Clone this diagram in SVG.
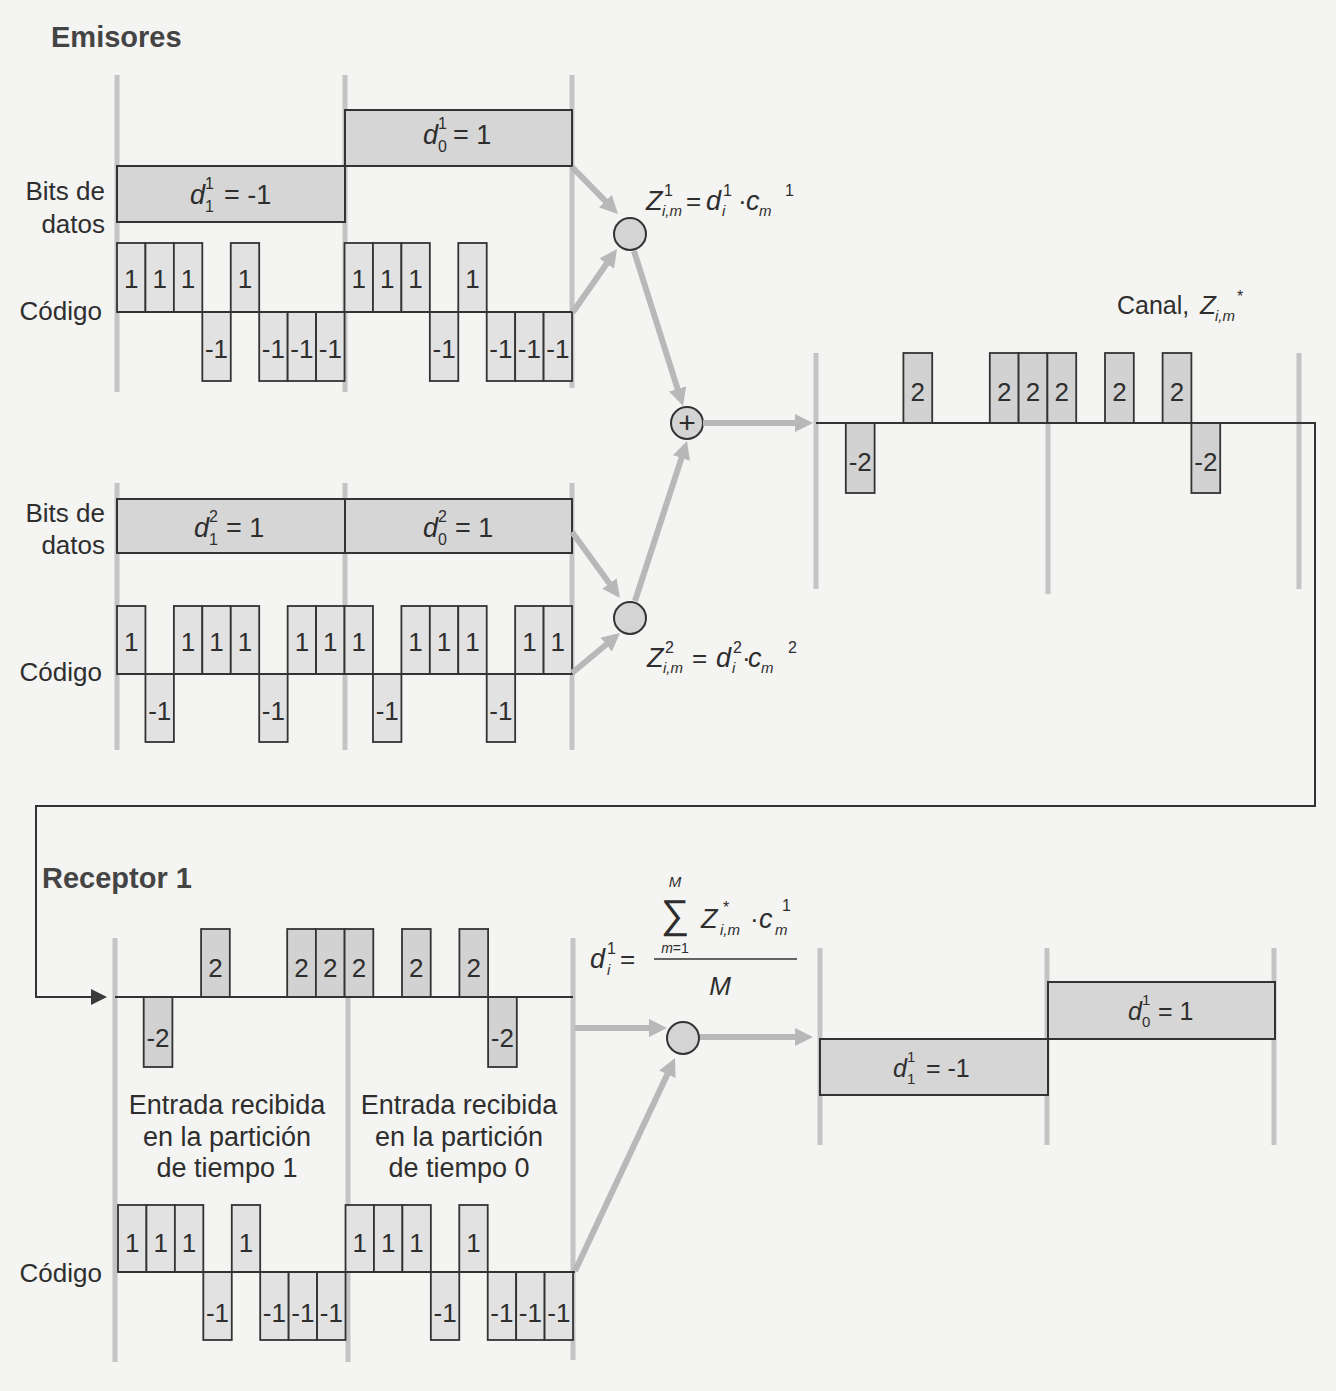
<svg xmlns="http://www.w3.org/2000/svg" width="1336" height="1391" viewBox="0 0 1336 1391">
<style>
text{font-family:"Liberation Sans",Arial,sans-serif;fill:#2e2e2e;font-size:26px}
.it{font-style:italic}
.s{font-size:16px}
.ss{font-size:15px}
.h{font-weight:bold;font-size:29px;fill:#444}
.lbl{text-anchor:end}
.c{text-anchor:middle}
.data{fill:#d6d6d6;stroke:#333;stroke-width:2}
.chip{fill:#e2e2e2;stroke:#333;stroke-width:1.8}
.ch{fill:#d2d2d2;stroke:#333;stroke-width:1.8}
.grid{stroke:#c4c4c4;stroke-width:5;fill:none}
.ga{stroke:#b8b8b8;stroke-width:6;fill:none}
.wire{stroke:#333;stroke-width:2;fill:none}
.node{fill:#d4d4d4;stroke:#333;stroke-width:2}
</style>
<defs>
<marker id="ga" markerUnits="userSpaceOnUse" markerWidth="20" markerHeight="18" refX="6" refY="9" orient="auto"><path d="M0,0 L18,9 L0,18 z" fill="#b8b8b8"/></marker>
<marker id="ba" markerUnits="userSpaceOnUse" markerWidth="18" markerHeight="16" refX="4" refY="8" orient="auto"><path d="M0,0 L16,8 L0,16 z" fill="#3a3a3a"/></marker>
</defs>
<rect width="1336" height="1391" fill="#f4f4f2"/>

<text class="h" x="51" y="47">Emisores</text>

<!-- Emisor 1 -->
<g id="emisor1">
<path class="grid" d="M117,75V392M345,75V392M572,75V388"/>
<rect class="data" x="345" y="110" width="227" height="56"/>
<rect class="data" x="117" y="166" width="228" height="56"/>
<text class="it" x="190" y="204" style="font-size:27px">d</text><text class="s" x="205" y="189">1</text><text class="s" x="205" y="212">1</text><text x="224" y="204" style="font-size:27px">= -1</text>
<text class="it" x="423" y="144" style="font-size:27px">d</text><text class="s" x="438" y="129">1</text><text class="s" x="438" y="152">0</text><text x="453" y="144" style="font-size:27px">= 1</text>
<text class="lbl" x="105" y="200">Bits de</text>
<text class="lbl" x="105" y="233">datos</text>
<text class="lbl" x="102" y="320">Código</text>
<g>
<rect class="chip" x="117" y="243" width="28.44" height="69"/>
<rect class="chip" x="145.44" y="243" width="28.44" height="69"/>
<rect class="chip" x="173.88" y="243" width="28.44" height="69"/>
<rect class="chip" x="202.32" y="312" width="28.44" height="69"/>
<rect class="chip" x="230.76" y="243" width="28.44" height="69"/>
<rect class="chip" x="259.2" y="312" width="28.44" height="69"/>
<rect class="chip" x="287.64" y="312" width="28.44" height="69"/>
<rect class="chip" x="316.08" y="312" width="28.44" height="69"/>
<rect class="chip" x="344.52" y="243" width="28.44" height="69"/>
<rect class="chip" x="372.96" y="243" width="28.44" height="69"/>
<rect class="chip" x="401.4" y="243" width="28.44" height="69"/>
<rect class="chip" x="429.84" y="312" width="28.44" height="69"/>
<rect class="chip" x="458.28" y="243" width="28.44" height="69"/>
<rect class="chip" x="486.72" y="312" width="28.44" height="69"/>
<rect class="chip" x="515.16" y="312" width="28.44" height="69"/>
<rect class="chip" x="543.6" y="312" width="28.44" height="69"/>
<path class="wire" d="M117,312H572"/>
<text class="c" x="131.2" y="288">1</text><text class="c" x="159.7" y="288">1</text><text class="c" x="188.1" y="288">1</text><text class="c" x="216.5" y="358">-1</text>
<text class="c" x="245" y="288">1</text><text class="c" x="273.4" y="358">-1</text><text class="c" x="301.9" y="358">-1</text><text class="c" x="330.3" y="358">-1</text>
<text class="c" x="358.7" y="288">1</text><text class="c" x="387.2" y="288">1</text><text class="c" x="415.6" y="288">1</text><text class="c" x="444.1" y="358">-1</text>
<text class="c" x="472.5" y="288">1</text><text class="c" x="500.9" y="358">-1</text><text class="c" x="529.4" y="358">-1</text><text class="c" x="557.8" y="358">-1</text>
</g>
</g>

<!-- Emisor 2 -->
<g id="emisor2">
<path class="grid" d="M117,483V750M345,483V750M572,483V750"/>
<rect class="data" x="117" y="499" width="228" height="54"/>
<rect class="data" x="345" y="499" width="227" height="54"/>
<text class="it" x="194" y="537" style="font-size:27px">d</text><text class="s" x="209" y="522">2</text><text class="s" x="209" y="545">1</text><text x="226" y="537" style="font-size:27px">= 1</text>
<text class="it" x="423" y="537" style="font-size:27px">d</text><text class="s" x="438" y="522">2</text><text class="s" x="438" y="545">0</text><text x="455" y="537" style="font-size:27px">= 1</text>
<text class="lbl" x="105" y="522">Bits de</text>
<text class="lbl" x="105" y="554">datos</text>
<text class="lbl" x="102" y="681">Código</text>
<g>
<rect class="chip" x="117" y="606" width="28.44" height="68"/>
<rect class="chip" x="145.44" y="674" width="28.44" height="68"/>
<rect class="chip" x="173.88" y="606" width="28.44" height="68"/>
<rect class="chip" x="202.32" y="606" width="28.44" height="68"/>
<rect class="chip" x="230.76" y="606" width="28.44" height="68"/>
<rect class="chip" x="259.2" y="674" width="28.44" height="68"/>
<rect class="chip" x="287.64" y="606" width="28.44" height="68"/>
<rect class="chip" x="316.08" y="606" width="28.44" height="68"/>
<rect class="chip" x="344.52" y="606" width="28.44" height="68"/>
<rect class="chip" x="372.96" y="674" width="28.44" height="68"/>
<rect class="chip" x="401.4" y="606" width="28.44" height="68"/>
<rect class="chip" x="429.84" y="606" width="28.44" height="68"/>
<rect class="chip" x="458.28" y="606" width="28.44" height="68"/>
<rect class="chip" x="486.72" y="674" width="28.44" height="68"/>
<rect class="chip" x="515.16" y="606" width="28.44" height="68"/>
<rect class="chip" x="543.6" y="606" width="28.44" height="68"/>
<path class="wire" d="M117,674H572"/>
<text class="c" x="131.2" y="651">1</text><text class="c" x="159.7" y="720">-1</text><text class="c" x="188.1" y="651">1</text><text class="c" x="216.5" y="651">1</text>
<text class="c" x="245" y="651">1</text><text class="c" x="273.4" y="720">-1</text><text class="c" x="301.9" y="651">1</text><text class="c" x="330.3" y="651">1</text>
<text class="c" x="358.7" y="651">1</text><text class="c" x="387.2" y="720">-1</text><text class="c" x="415.6" y="651">1</text><text class="c" x="444.1" y="651">1</text>
<text class="c" x="472.5" y="651">1</text><text class="c" x="500.9" y="720">-1</text><text class="c" x="529.4" y="651">1</text><text class="c" x="557.8" y="651">1</text>
</g>
</g>

<!-- Multiplicador 1 -->
<g id="mult1">
<circle class="node" cx="630" cy="234" r="16"/>
<text class="it" x="646" y="210" style="font-size:27px">Z</text><text class="s" x="664" y="196">1</text><text class="ss it" x="662" y="216">i,m</text>
<text x="686" y="210">=</text>
<text class="it" x="706" y="210" style="font-size:27px">d</text><text class="s" x="723" y="196">1</text><text class="ss it" x="722" y="216">i</text>
<text x="738" y="210">·</text>
<text class="it" x="746" y="210" style="font-size:27px">c</text><text class="ss it" x="759" y="216">m</text><text class="s" x="785" y="196">1</text>
</g>

<!-- Multiplicador 2 -->
<g id="mult2">
<circle class="node" cx="630" cy="618" r="16"/>
<text class="it" x="647" y="667" style="font-size:27px">Z</text><text class="s" x="665" y="653">2</text><text class="ss it" x="663" y="673">i,m</text>
<text x="692" y="667">=</text>
<text class="it" x="716" y="667" style="font-size:27px">d</text><text class="s" x="733" y="653">2</text><text class="ss it" x="732" y="673">i</text>
<text x="742" y="667">·</text>
<text class="it" x="748" y="667" style="font-size:27px">c</text><text class="ss it" x="761" y="673">m</text><text class="s" x="788" y="653">2</text>
</g>

<!-- Sumador -->
<g id="sumador">
<circle class="node" cx="687" cy="423" r="16"/>
<text class="c" x="687" y="433" style="font-size:30px">+</text>
</g>

<!-- Canal -->
<g id="canal">
<path class="grid" d="M816,353V589M1048,353V594M1299,353V589"/>
<rect class="ch" x="845.8" y="423" width="28.8" height="70"/>
<rect class="ch" x="903.4" y="353" width="28.8" height="70"/>
<rect class="ch" x="989.8" y="353" width="28.8" height="70"/>
<rect class="ch" x="1018.6" y="353" width="28.8" height="70"/>
<rect class="ch" x="1047.4" y="353" width="28.8" height="70"/>
<rect class="ch" x="1105" y="353" width="28.8" height="70"/>
<rect class="ch" x="1162.6" y="353" width="28.8" height="70"/>
<rect class="ch" x="1191.4" y="423" width="28.8" height="70"/>
<text class="c" x="860.2" y="471">-2</text>
<text class="c" x="917.8" y="401">2</text>
<text class="c" x="1004.2" y="401">2</text><text class="c" x="1033" y="401">2</text><text class="c" x="1061.8" y="401">2</text>
<text class="c" x="1119.4" y="401">2</text>
<text class="c" x="1177" y="401">2</text>
<text class="c" x="1205.8" y="471">-2</text>
<text x="1117" y="314" style="font-size:25px">Canal,</text><text class="it" x="1200" y="314" style="font-size:26px">Z</text><text class="ss it" x="1215" y="321">i,m</text><text class="s" x="1237" y="302">*</text>
</g>

<text class="h" x="42" y="888">Receptor 1</text>

<!-- Receptor: entrada -->
<g id="receptor-entrada">
<path class="grid" d="M115,938V1362M348,938V1362M573,938V1360"/>
<rect class="ch" x="143.7" y="997" width="28.7" height="70"/>
<rect class="ch" x="201.1" y="929" width="28.7" height="68"/>
<rect class="ch" x="287.2" y="929" width="28.7" height="68"/>
<rect class="ch" x="315.9" y="929" width="28.7" height="68"/>
<rect class="ch" x="344.6" y="929" width="28.7" height="68"/>
<rect class="ch" x="402" y="929" width="28.7" height="68"/>
<rect class="ch" x="459.4" y="929" width="28.7" height="68"/>
<rect class="ch" x="488.1" y="997" width="28.7" height="70"/>
<path class="wire" d="M115,997H573"/>
<text class="c" x="158" y="1047">-2</text>
<text class="c" x="215.4" y="977">2</text>
<text class="c" x="301.5" y="977">2</text><text class="c" x="330.2" y="977">2</text><text class="c" x="358.9" y="977">2</text>
<text class="c" x="416.3" y="977">2</text>
<text class="c" x="473.7" y="977">2</text>
<text class="c" x="502.4" y="1047">-2</text>
<text class="c" x="227" y="1114" style="font-size:27px">Entrada recibida</text>
<text class="c" x="227" y="1146" style="font-size:27px">en la partición</text>
<text class="c" x="227" y="1177" style="font-size:27px">de tiempo 1</text>
<text class="c" x="459" y="1114" style="font-size:27px">Entrada recibida</text>
<text class="c" x="459" y="1146" style="font-size:27px">en la partición</text>
<text class="c" x="459" y="1177" style="font-size:27px">de tiempo 0</text>
</g>

<!-- Receptor: código -->
<g id="receptor-codigo" transform="translate(1,0)">
<rect class="chip" x="117" y="1205" width="28.44" height="67"/>
<rect class="chip" x="145.44" y="1205" width="28.44" height="67"/>
<rect class="chip" x="173.88" y="1205" width="28.44" height="67"/>
<rect class="chip" x="202.32" y="1272" width="28.44" height="68"/>
<rect class="chip" x="230.76" y="1205" width="28.44" height="67"/>
<rect class="chip" x="259.2" y="1272" width="28.44" height="68"/>
<rect class="chip" x="287.64" y="1272" width="28.44" height="68"/>
<rect class="chip" x="316.08" y="1272" width="28.44" height="68"/>
<rect class="chip" x="344.52" y="1205" width="28.44" height="67"/>
<rect class="chip" x="372.96" y="1205" width="28.44" height="67"/>
<rect class="chip" x="401.4" y="1205" width="28.44" height="67"/>
<rect class="chip" x="429.84" y="1272" width="28.44" height="68"/>
<rect class="chip" x="458.28" y="1205" width="28.44" height="67"/>
<rect class="chip" x="486.72" y="1272" width="28.44" height="68"/>
<rect class="chip" x="515.16" y="1272" width="28.44" height="68"/>
<rect class="chip" x="543.6" y="1272" width="28.44" height="68"/>
<path class="wire" d="M117,1272H574"/>
<text class="c" x="131.2" y="1252">1</text><text class="c" x="159.7" y="1252">1</text><text class="c" x="188.1" y="1252">1</text><text class="c" x="216.5" y="1322">-1</text>
<text class="c" x="245" y="1252">1</text><text class="c" x="273.4" y="1322">-1</text><text class="c" x="301.9" y="1322">-1</text><text class="c" x="330.3" y="1322">-1</text>
<text class="c" x="358.7" y="1252">1</text><text class="c" x="387.2" y="1252">1</text><text class="c" x="415.6" y="1252">1</text><text class="c" x="444.1" y="1322">-1</text>
<text class="c" x="472.5" y="1252">1</text><text class="c" x="500.9" y="1322">-1</text><text class="c" x="529.4" y="1322">-1</text><text class="c" x="557.8" y="1322">-1</text>
</g>
<text class="lbl" x="102" y="1282">Código</text>

<!-- Multiplicador receptor + fórmula -->
<g id="mult3">
<circle class="node" cx="683" cy="1038" r="16"/>
<text class="it" x="590" y="968" style="font-size:27px">d</text><text class="s" x="607" y="954">1</text><text class="ss it" x="607" y="975">i</text>
<text x="620" y="968">=</text>
<text class="c" x="675" y="928" style="font-size:40px">∑</text>
<text class="c it ss" x="675" y="887">M</text>
<text class="c" x="675" y="953" style="font-size:14px"><tspan font-style="italic">m</tspan>=1</text>
<text class="it" x="701" y="928" style="font-size:27px">Z</text><text class="s" x="723" y="913">*</text><text class="ss it" x="720" y="935">i,m</text>
<text x="750" y="928">·</text>
<text class="it" x="759" y="928" style="font-size:27px">c</text><text class="ss it" x="775" y="935">m</text><text class="s" x="782" y="911">1</text>
<path d="M654,959H797" stroke="#333" stroke-width="1.6"/>
<text class="c it" x="720" y="995">M</text>
</g>

<!-- Salida receptor -->
<g id="salida">
<path class="grid" d="M820,948V1145M1047,948V1145M1274,948V1145"/>
<rect class="data" x="1048" y="982" width="227" height="57"/>
<rect class="data" x="820" y="1039" width="228" height="56"/>
<text class="it" x="893" y="1077" style="font-size:25px">d</text><text class="ss" x="907" y="1062">1</text><text class="ss" x="907" y="1084">1</text><text x="926" y="1077" style="font-size:25px">= -1</text>
<text class="it" x="1128" y="1020" style="font-size:25px">d</text><text class="ss" x="1142" y="1005">1</text><text class="ss" x="1142" y="1027">0</text><text x="1158" y="1020" style="font-size:25px">= 1</text>
</g>

<!-- Conectores -->
<g id="connectors">
<path class="ga" d="M572,167L609.6,205.4" marker-end="url(#ga)"/>
<path class="ga" d="M573,312L610.1,258.8" marker-end="url(#ga)"/>
<path class="ga" d="M634,251L679.4,394.6" marker-end="url(#ga)"/>
<path class="ga" d="M635,601L683.3,452.4" marker-end="url(#ga)"/>
<path class="ga" d="M572,532L612.9,588.3" marker-end="url(#ga)"/>
<path class="ga" d="M572,673L610.8,640.7" marker-end="url(#ga)"/>
<path class="ga" d="M703,423H801" marker-end="url(#ga)"/>
<path class="ga" d="M575,1028H655" marker-end="url(#ga)"/>
<path class="ga" d="M700,1037H801" marker-end="url(#ga)"/>
<path class="ga" d="M575,1271L669.9,1068.9" marker-end="url(#ga)"/>
<path class="wire" d="M816,423H1315V806H36V997H95" marker-end="url(#ba)"/>
</g>
</svg>
